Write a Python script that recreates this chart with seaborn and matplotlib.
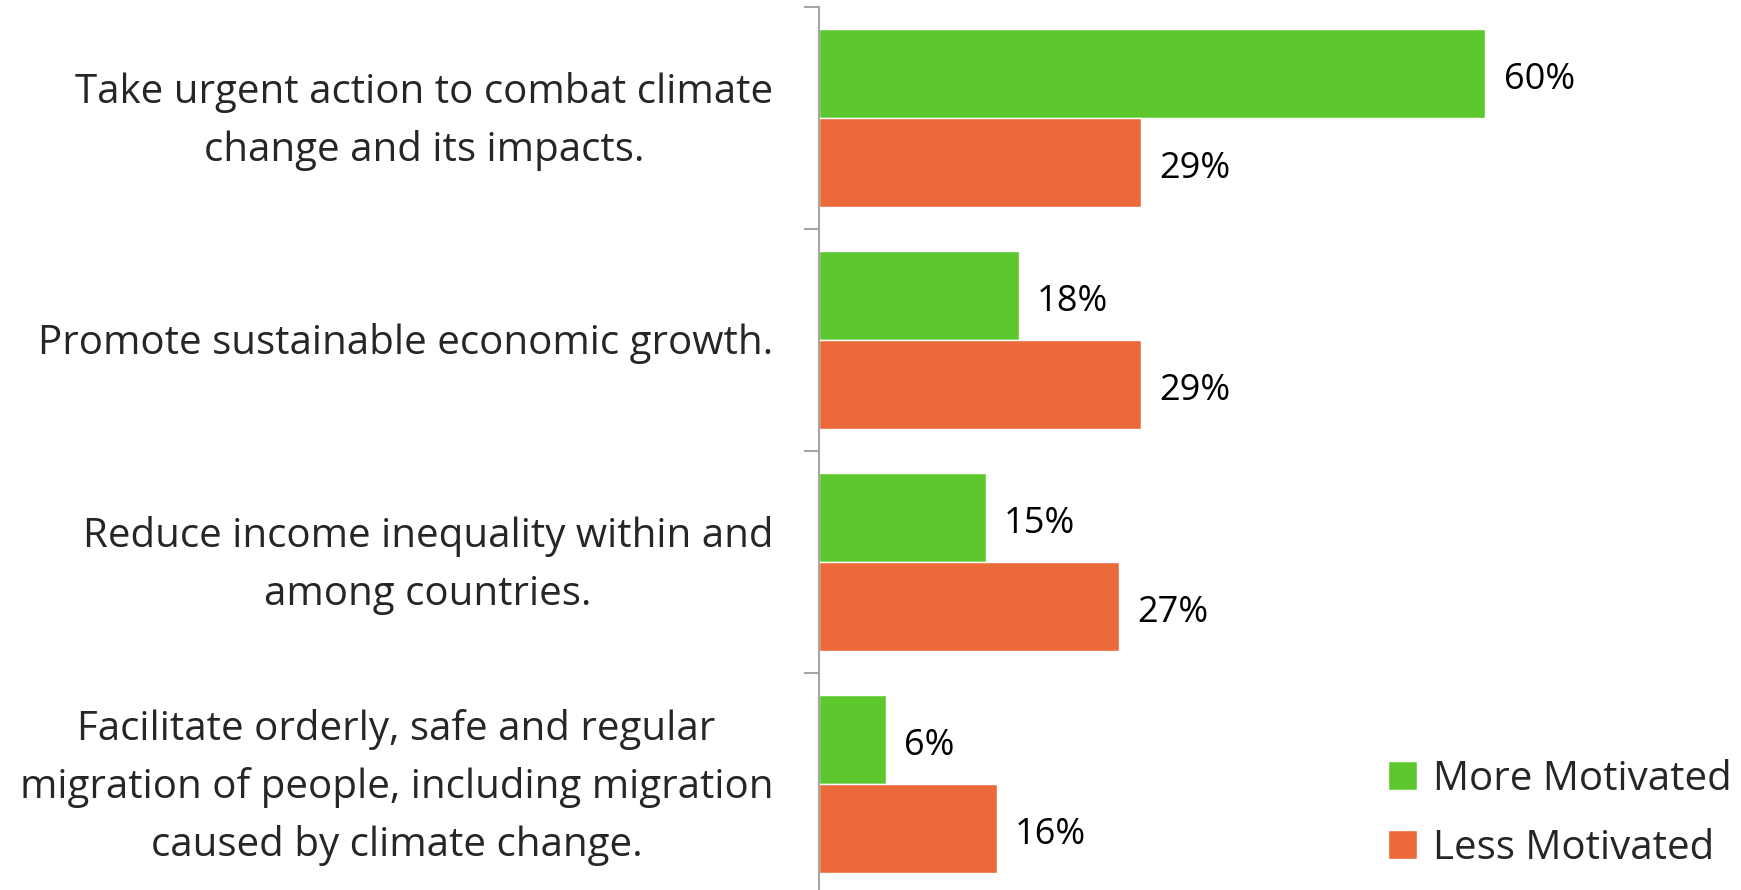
import matplotlib
matplotlib.use("Agg")
import matplotlib.pyplot as plt
import matplotlib.transforms as mtransforms
import seaborn as sns
import pandas as pd

categories = [
    "Take urgent action to combat climate\nchange and its impacts.",
    "Promote sustainable economic growth.",
    "Reduce income inequality within and\namong countries.",
    "Facilitate orderly, safe and regular\nmigration of people, including migration\ncaused by climate change.",
]
series_names = ["More Motivated", "Less Motivated"]
more_motivated = [60, 18, 15, 6]
less_motivated = [29, 29, 27, 16]
colors = ["#5DC72E", "#EC6A39"]

df = pd.DataFrame({
    "category": categories * 2,
    "series": [series_names[0]] * 4 + [series_names[1]] * 4,
    "value": more_motivated + less_motivated,
})

sns.set_theme(style="white")
plt.rcParams["font.family"] = ["Open Sans", "DejaVu Sans"]

fig = plt.figure(figsize=(17.41, 8.90), dpi=100)
ax = fig.add_axes([0.4704, -0.0056, 0.5296, 0.9977])

sns.barplot(data=df, y="category", x="value", hue="series", order=categories,
            hue_order=series_names, palette=colors, orient="h", width=0.8,
            saturation=1, ax=ax, legend=True)

ax.set_xlim(0, 83)
ax.set_ylim(3.5, -0.5)
ax.set_xlabel("")
ax.set_ylabel("")
ax.set_xticks([])
ax.set_yticks([-0.5, 0.5, 1.5, 2.5, 3.5])
ax.set_yticklabels([])
ax.set_yticks(range(4), minor=True)
ax.set_yticklabels(categories, minor=True, fontsize=29, ha="right",
                   multialignment="center", linespacing=1.55)
ax.tick_params(axis="y", which="major", length=11, width=1.5, color="#A6A6A6", left=True)
ax.tick_params(axis="y", which="minor", length=0, pad=33, labelsize=29)
for lbl in ax.get_yticklabels(minor=True):
    shift = 2 if "\n" not in lbl.get_text() else 10
    lbl.set_transform(lbl.get_transform() +
                      mtransforms.ScaledTranslation(0, shift / 100, fig.dpi_scale_trans))
for s in ["top", "right", "bottom"]:
    ax.spines[s].set_visible(False)
ax.spines["left"].set_color("#A6A6A6")
ax.spines["left"].set_linewidth(1.5)

for cont in ax.containers:
    labels = [f"{int(round(v))}%" for v in cont.datavalues]
    anns = ax.bar_label(cont, labels=labels, padding=13, fontsize=26, color="black")
    for a in anns:
        a.xyann = (13, -4.5)

handles, labels = ax.get_legend_handles_labels()
ax.legend(handles, labels, loc="lower right", bbox_to_anchor=(1.004, 0.006),
          bbox_transform=fig.transFigure, frameon=False, fontsize=29,
          handlelength=0.72, handleheight=0.72, handletextpad=0.4,
          labelspacing=0.7, borderaxespad=0)

fig.savefig("out.png", dpi=100)
